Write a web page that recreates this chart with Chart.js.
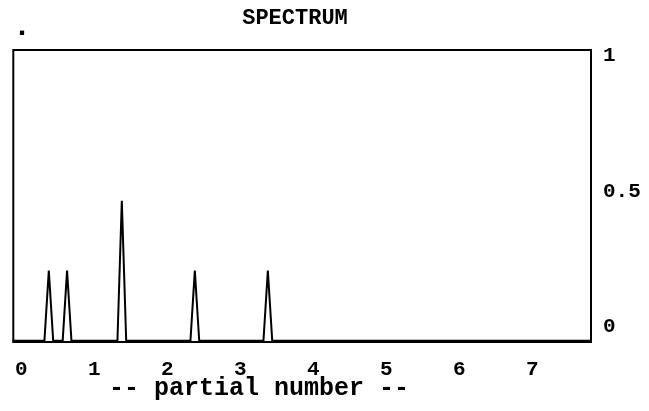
<!DOCTYPE html>
<html>
<head>
<meta charset="utf-8">
<script src="https://cdn.jsdelivr.net/npm/chart.js@4.4.1/dist/chart.umd.min.js"></script>
<style>
html,body{margin:0;padding:0;background:#fff}
#wrap{width:649px;height:411px}
</style>
</head>
<body>
<div id="wrap"><canvas id="spectrum" width="649" height="411"></canvas></div>
<script>
// partial number (x) and amplitude (y)
const partialNumber = [0, 0.44, 0.5, 0.56, 0.69, 0.75, 0.81, 1.44, 1.5, 1.56, 2.44, 2.5, 2.56, 3.44, 3.5, 3.56, 7.94]
const amplitude     = [0, 0,    0.24, 0,   0,    0.24, 0,    0,    0.48, 0,   0,    0.24, 0,   0,    0.24, 0,   0]

const xTicks = [0, 1, 2, 3, 4, 5, 6, 7]
const yTicks = [0, 0.5, 1]

const chartTitle = "SPECTRUM"
const xTitle = "-- partial number --"

const monoFont = "'Liberation Mono', 'Courier New', monospace"

let points = []
for(let i=0;i<partialNumber.length;i++){
points.push({x:partialNumber[i], y:amplitude[i]})
}

// frame round the plot and the loose texts
const decor = {
id:"decor",
beforeDatasetsDraw(chart){
let c = chart.ctx
let a = chart.chartArea
c.save()
c.strokeStyle = "#000"
c.lineWidth = 2
c.strokeRect(a.left+1, a.top+1, a.right-a.left-2, a.bottom-a.top-2)
c.restore()
},
afterDraw(chart){
let c = chart.ctx
c.save()
c.fillStyle = "#000"
c.textAlign = "center"
c.textBaseline = "middle"
c.font = "bold 22px " + monoFont
c.fillText(chartTitle, 295, 18)
c.font = "bold 25px " + monoFont
c.fillText(xTitle, 259, 389)
c.textAlign = "left"
c.font = "bold 30px " + monoFont
c.fillText(".", 13, 27)
c.restore()
}
}

new Chart(document.getElementById("spectrum"),{
type:"line",
data:{
datasets:[{
data:points,
borderColor:"#000",
borderWidth:2,
pointRadius:0,
tension:0,
fill:false
}]
},
options:{
responsive:false,
animation:false,
layout:{padding:{left:12, top:49, right:0, bottom:0}},
plugins:{legend:{display:false}, tooltip:{enabled:false}, title:{display:false}},
scales:{
x:{
type:"linear",
min:0,
max:7.94,
grid:{display:false},
border:{display:false},
afterBuildTicks(s){ s.ticks = xTicks.map(v => ({value:v})) },
afterFit(s){ s.height = 68 },
ticks:{
color:"#000",
labelOffset:9,
padding:6,
maxRotation:0,
font:{family:monoFont, size:21, weight:"bold"}
}
},
y:{
display:false,
min:-0.008,
max:1
},
yLabels:{
type:"linear",
position:"right",
min:-0.059,
max:1.0247,
grid:{display:false},
border:{display:false},
afterBuildTicks(s){ s.ticks = yTicks.map(v => ({value:v})) },
afterFit(s){ s.width = 57 },
ticks:{
color:"#000",
padding:3,
font:{family:monoFont, size:21, weight:"bold"},
callback:(v) => String(v)
}
}
}
},
plugins:[decor]
})
</script>
</body>
</html>
